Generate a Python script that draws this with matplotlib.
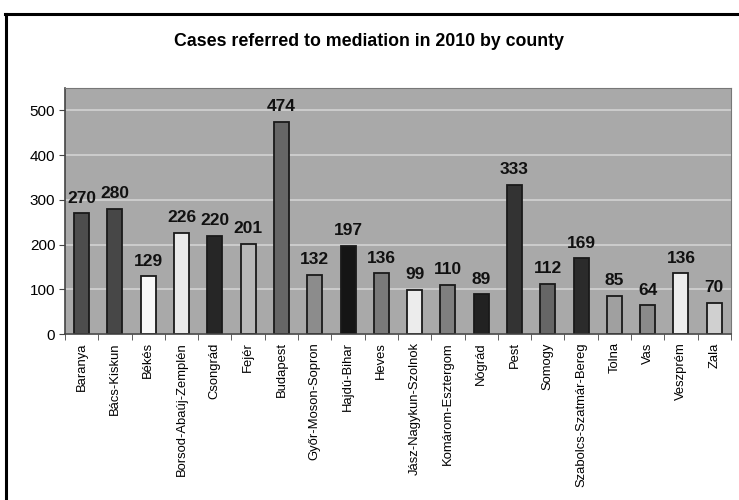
import numpy as np
import matplotlib
matplotlib.use('Agg')
import matplotlib.pyplot as plt
from matplotlib.lines import Line2D

plt.rcParams['font.family'] = ['Liberation Sans', 'DejaVu Sans']

#Data
counties = ['Baranya', 'Bács-Kiskun', 'Békés', 'Borsod-Abaúj-Zemplén', 'Csongrád',
            'Fejér', 'Budapest', 'Győr-Moson-Sopron', 'Hajdú-Bihar', 'Heves',
            'Jász-Nagykun-Szolnok', 'Komárom-Esztergom', 'Nógrád', 'Pest', 'Somogy',
            'Szabolcs-Szatmár-Bereg', 'Tolna', 'Vas', 'Veszprém', 'Zala']
cases = [270, 280, 129, 226, 220, 201, 474, 132, 197, 136,
         99, 110, 89, 333, 112, 169, 85, 64, 136, 70]
shades = ['#4d4d4d', '#474747', '#f8f8f8', '#eaeaea', '#262626',
          '#b8b8b8', '#666666', '#8c8c8c', '#151515', '#7a7a7a',
          '#ececec', '#7f7f7f', '#222222', '#333333', '#666666',
          '#2b2b2b', '#a0a0a0', '#8a8a8a', '#eeeeee', '#d0d0d0']
y_ticks = [0, 100, 200, 300, 400, 500]

fig = plt.figure(figsize=(7.39, 5.0), dpi=100)
ax = fig.add_axes([0.088, 0.332, 0.901, 0.492])

#Outer frame (left and top edges)
fig.add_artist(Line2D([0.008, 0.008], [0.0, 0.972], transform=fig.transFigure,
                      color='black', lw=2.2))
fig.add_artist(Line2D([0.007, 1.0], [0.972, 0.972], transform=fig.transFigure,
                      color='black', lw=2.2))

x = np.arange(len(counties))
ax.set_facecolor('#a9a9a9')
ax.set_axisbelow(True)
ax.yaxis.grid(True, color='#d2d2d2', lw=1.2)

bars = ax.bar(x, cases, width=0.45, color=shades, edgecolor='#1a1a1a', linewidth=1.3)
for xi, v in zip(x, cases):
    ax.text(xi, v + 17, str(v), ha='center', va='bottom', fontsize=12.5,
            fontweight='bold', color='#111111')

ax.set_xlim(-0.5, len(counties) - 0.5)
ax.set_ylim(0, 550)
ax.set_yticks(y_ticks)
ax.tick_params(axis='y', labelsize=11, length=4, color='#444444', pad=3)

#category ticks sit between bars
ax.set_xticks(x)
ax.set_xticklabels(counties, rotation=90, fontsize=9.4)
ax.set_xticks(np.arange(-0.5, len(counties)), minor=True)
ax.tick_params(axis='x', which='major', length=0, pad=6)
ax.tick_params(axis='x', which='minor', length=4, color='#444444')

for side in ['top', 'right']:
    ax.spines[side].set_color('#777777')
for side in ['left', 'bottom']:
    ax.spines[side].set_color('#444444')
    ax.spines[side].set_linewidth(1.2)

fig.text(0.5, 0.918, 'Cases referred to mediation in 2010 by county',
         ha='center', va='center', fontsize=12.8, fontweight='bold')

fig.savefig('out.png', dpi=100)
